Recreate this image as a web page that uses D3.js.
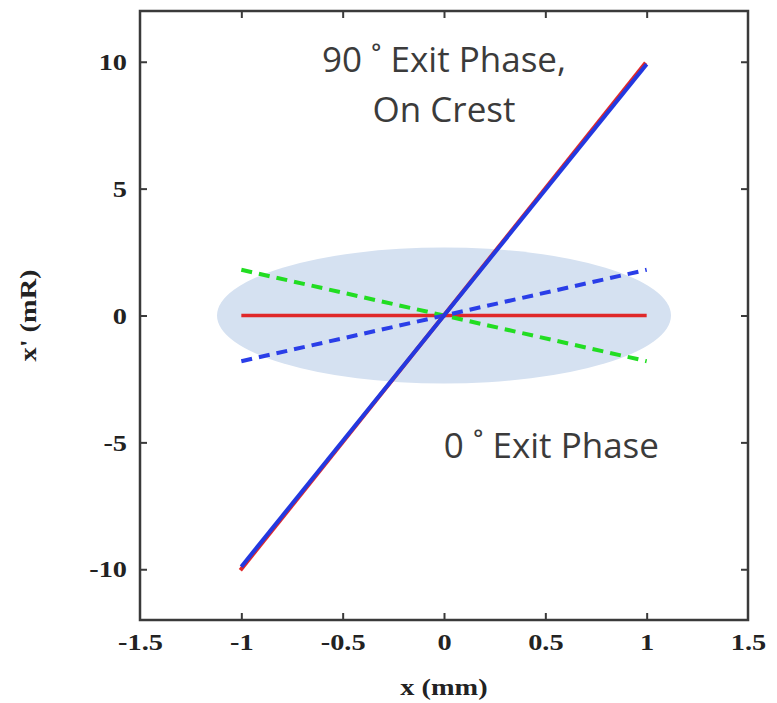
<!DOCTYPE html>
<html><head><meta charset="utf-8">
<script src="https://d3js.org/d3.v7.min.js"></script>
<style>body{margin:0;background:#fff}</style>
</head><body>
<svg id="c" width="777" height="703"></svg>
<script>
// ---- data ----
const xTicks = [-1.5, -1, -0.5, 0, 0.5, 1, 1.5];
const xTickLabels = ["-1.5", "-1", "-0.5", "0", "0.5", "1", "1.5"];
const yTicks = [-10, -5, 0, 5, 10];
const yTickLabels = ["-10", "-5", "0", "5", "10"];
const xDomain = [-1.5, 1.5];
const yDomain = [-12, 12];
// phase-space ellipse (x semi-axis mm, x' semi-axis mR)
const ellipseRx = [1.12];
const ellipseRy = [2.68];
// lines: endpoints x and x'
const onCrestRed = [[-1, -10], [1, 10]];
const onCrestBlue = [[-1, -9.9], [1, 9.9]];
const zeroPhaseRed = [[-1, 0], [1, 0]];
const greenDashed = [[-1, 1.8], [1, -1.8]];
const blueDashed = [[-1, -1.8], [1, 1.8]];
const annotations = [
  {text: "90 ˚ Exit Phase,", x: 0.0, y: 9.6},
  {text: "On Crest", x: 0.0, y: 7.63},
  {text: "0 ˚ Exit Phase", x: 0.53, y: -5.62}
];

// ---- layout ----
const svg = d3.select("#c");
const L = 140, R = 748, T = 11, B = 620;
const x = d3.scaleLinear().domain(xDomain).range([L, R]);
const y = d3.scaleLinear().domain(yDomain).range([B, T]);
const serif = "'Liberation Serif', 'Times New Roman', serif";
const stretch = 1.18;
function widen(sel) {
  sel.each(function() {
    const w = this.getComputedTextLength();
    d3.select(this).attr("textLength", w * stretch).attr("lengthAdjust", "spacingAndGlyphs");
  });
}

// ellipse
svg.append("ellipse")
  .attr("cx", x(0)).attr("cy", y(0))
  .attr("rx", x(ellipseRx[0]) - x(0))
  .attr("ry", y(0) - y(ellipseRy[0]))
  .attr("fill", "#d5e1f1");

const line = d3.line().x(d => x(d[0])).y(d => y(d[1]));

svg.append("path").datum(zeroPhaseRed).attr("d", line)
  .attr("stroke", "#e0282a").attr("stroke-width", 3.5).attr("fill", "none");
svg.append("path").datum(greenDashed).attr("d", line)
  .attr("stroke", "#22dd22").attr("stroke-width", 4).attr("fill", "none")
  .attr("stroke-dasharray", "11,7");
svg.append("path").datum(blueDashed).attr("d", line)
  .attr("stroke", "#2a3ee8").attr("stroke-width", 4).attr("fill", "none")
  .attr("stroke-dasharray", "11,7");
svg.append("path").datum(onCrestRed).attr("d", line)
  .attr("stroke", "#e0282a").attr("stroke-width", 4).attr("fill", "none")
  .attr("transform", "translate(-1,1)");
svg.append("path").datum(onCrestBlue).attr("d", line)
  .attr("stroke", "#2338e0").attr("stroke-width", 4).attr("fill", "none");

// frame
const axisColor = "#3a3a3a";
svg.append("rect").attr("x", L).attr("y", T).attr("width", R - L).attr("height", B - T)
  .attr("fill", "none").attr("stroke", axisColor).attr("stroke-width", 2.5);

const tickLen = 7;
const fmtX = d => xTickLabels[xTicks.indexOf(d)];
const fmtY = d => yTickLabels[yTicks.indexOf(d)];

function styleAxis(g, showText) {
  g.select(".domain").remove();
  g.selectAll(".tick line").attr("stroke", axisColor).attr("stroke-width", 2);
  const t = g.selectAll(".tick text")
    .attr("font-family", serif)
    .attr("font-weight", "bold").attr("font-size", 24).attr("fill", "#222");
  if (showText) widen(t); else t.remove();
}

svg.append("g").attr("transform", `translate(0,${B})`)
  .call(d3.axisBottom(x).tickValues(xTicks).tickFormat(fmtX).tickSizeInner(-tickLen).tickSizeOuter(0).tickPadding(13))
  .call(g => styleAxis(g, true))
  .call(g => g.selectAll(".tick").filter(d => d === -1.5 || d === 1.5).select("line").remove());
svg.append("g").attr("transform", `translate(0,${T})`)
  .call(d3.axisTop(x).tickValues(xTicks.filter(d => d > -1.5 && d < 1.5)).tickSizeInner(-tickLen).tickSizeOuter(0))
  .call(g => styleAxis(g, false));
svg.append("g").attr("transform", `translate(${L},0)`)
  .call(d3.axisLeft(y).tickValues(yTicks).tickFormat(fmtY).tickSizeInner(-tickLen).tickSizeOuter(0).tickPadding(13))
  .call(g => styleAxis(g, true));
svg.append("g").attr("transform", `translate(${R},0)`)
  .call(d3.axisRight(y).tickValues(yTicks).tickSizeInner(-tickLen).tickSizeOuter(0))
  .call(g => styleAxis(g, false));

// axis titles
svg.append("text").attr("x", x(0)).attr("y", 695)
  .attr("text-anchor", "middle")
  .attr("font-family", serif)
  .attr("font-weight", "bold").attr("font-size", 24).attr("fill", "#222")
  .text("x (mm)").call(widen);
svg.append("text")
  .attr("transform", `translate(36,${y(0)}) rotate(-90)`)
  .attr("text-anchor", "middle")
  .attr("font-family", serif)
  .attr("font-weight", "bold").attr("font-size", 24).attr("fill", "#222")
  .text("x' (mR)").call(widen);

// annotations
svg.selectAll("text.ann").data(annotations).join("text").attr("class", "ann")
  .attr("x", d => x(d.x)).attr("y", d => y(d.y))
  .attr("text-anchor", "middle")
  .attr("font-family", "'Open Sans', sans-serif")
  .attr("font-size", 35).attr("fill", "#3b3b3b")
  .text(d => d.text);
</script>
</body></html>
